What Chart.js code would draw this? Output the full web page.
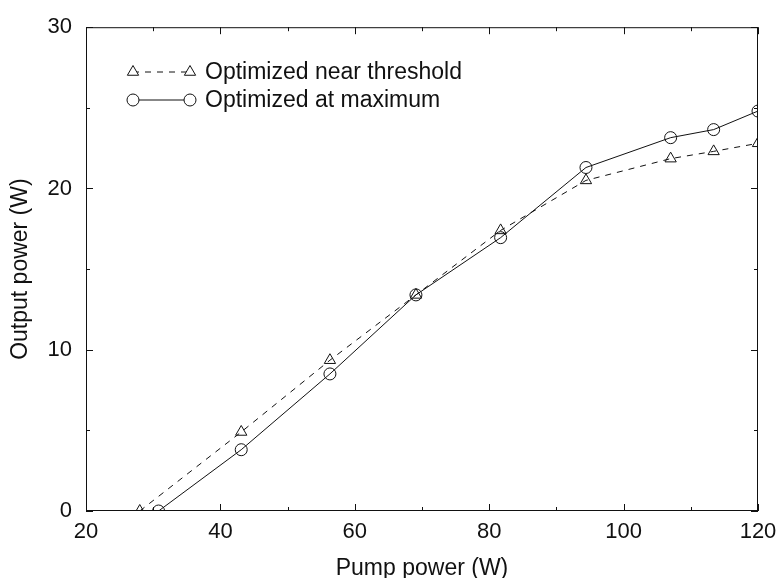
<!DOCTYPE html>
<html>
<head>
<meta charset="utf-8">
<script src="https://cdn.jsdelivr.net/npm/chart.js@4.4.1/dist/chart.umd.min.js"></script>
<style>
  html, body { margin: 0; padding: 0; background: #fff; }
  #wrap { width: 778px; height: 578px; }
</style>
</head>
<body>
<div id="wrap"><canvas id="chart" width="778" height="578"></canvas></div>
<script>
// Datos
const pumpThreshold = [28, 43.1, 56.3, 69.1, 81.7, 94.4, 107, 113.4, 120];
const outThreshold = [0, 4.9, 9.35, 13.4, 17.4, 20.5, 21.85, 22.3, 22.8];
const pumpMaximum = [30.8, 43.1, 56.3, 69.1, 81.7, 94.4, 107, 113.4, 120];
const outMaximum = [0, 3.8, 8.5, 13.4, 16.95, 21.3, 23.15, 23.65, 24.8];
const seriesLabels = ['Optimized near threshold', 'Optimized at maximum'];
const xTicks = [20, 40, 60, 80, 100, 120];
const xMinorTicks = [30, 50, 70, 90, 110];
const yTicks = [0, 10, 20, 30];
const yMinorTicks = [5, 15, 25];

const FONT = "'Liberation Sans', Arial, sans-serif";
const INK = '#111';

function toPoints(xs, ys) {
    return xs.map((x, i) => ({ x: x, y: ys[i] }));
}

// Marco, marcas hacia dentro y leyenda
const framePlugin = {
    id: 'frame',
    afterDraw(chart) {
        const ctx = chart.ctx;
        const a = chart.chartArea;
        const xs = chart.scales.x;
        const ys = chart.scales.y;
        ctx.save();
        ctx.strokeStyle = INK;
        ctx.lineWidth = 1;
        ctx.setLineDash([]);
        ctx.strokeRect(a.left + 0.5, a.top + 0.5, a.right - a.left - 1, a.bottom - a.top - 1);

        ctx.beginPath();
        const xTick = (v, len) => {
            const px = Math.round(xs.getPixelForValue(v)) + 0.5;
            ctx.moveTo(px, a.bottom); ctx.lineTo(px, a.bottom - len);
            ctx.moveTo(px, a.top); ctx.lineTo(px, a.top + len);
        };
        const yTick = (v, len) => {
            const py = Math.round(ys.getPixelForValue(v)) + 0.5;
            ctx.moveTo(a.left, py); ctx.lineTo(a.left + len, py);
            ctx.moveTo(a.right, py); ctx.lineTo(a.right - len, py);
        };
        xTicks.forEach(v => xTick(v, 7));
        xMinorTicks.forEach(v => xTick(v, 4));
        yTicks.forEach(v => yTick(v, 7));
        yMinorTicks.forEach(v => yTick(v, 4));
        ctx.stroke();

        // Leyenda
        const rows = [72, 100];
        chart.data.datasets.forEach((ds, i) => {
            const y = rows[i];
            const x0 = 133, x1 = 190;
            ctx.beginPath();
            ctx.setLineDash(ds.borderDash || []);
            ctx.strokeStyle = ds.borderColor;
            ctx.lineWidth = ds.borderWidth;
            ctx.moveTo(x0, y); ctx.lineTo(x1, y);
            ctx.stroke();
            ctx.setLineDash([]);
            ctx.fillStyle = '#fff';
            [x0, x1].forEach(px => {
                Chart.helpers.drawPoint(ctx, {
                    pointStyle: ds.pointStyle,
                    radius: ds.pointRadius,
                    borderWidth: 1,
                    rotation: 0
                }, px, y);
            });
            ctx.fillStyle = INK;
            ctx.font = '23px ' + FONT;
            ctx.textBaseline = 'middle';
            ctx.textAlign = 'left';
            ctx.fillText(ds.label, 205, y + 1);
        });
        ctx.restore();
    }
};

new Chart(document.getElementById('chart'), {
    type: 'line',
    data: {
        datasets: [
            {
                label: seriesLabels[0],
                data: toPoints(pumpThreshold, outThreshold),
                borderColor: INK,
                borderWidth: 1,
                borderDash: [6, 6],
                pointStyle: 'triangle',
                pointRadius: 6.5,
                pointBorderColor: INK,
                pointBackgroundColor: 'rgba(0,0,0,0)',
                pointBorderWidth: 1,
                tension: 0
            },
            {
                label: seriesLabels[1],
                data: toPoints(pumpMaximum, outMaximum),
                borderColor: INK,
                borderWidth: 1,
                pointStyle: 'circle',
                pointRadius: 6,
                pointBorderColor: INK,
                pointBackgroundColor: 'rgba(0,0,0,0)',
                pointBorderWidth: 1,
                tension: 0
            }
        ]
    },
    options: {
        responsive: false,
        animation: false,
        layout: { padding: { top: 20, right: 20, left: 0, bottom: 0 } },
        plugins: {
            legend: { display: false },
            tooltip: { enabled: false }
        },
        scales: {
            x: {
                type: 'linear',
                min: 20,
                max: 120,
                afterFit: s => { s.height = 67; s.paddingLeft = 0; s.paddingRight = 0; },
                afterBuildTicks: s => { s.ticks = xTicks.map(v => ({ value: v })); },
                grid: { display: false, drawTicks: false },
                border: { display: false },
                ticks: { color: INK, font: { family: FONT, size: 22 }, padding: 8 },
                title: {
                    display: true,
                    text: 'Pump power (W)',
                    color: INK,
                    font: { family: FONT, size: 23 },
                    padding: { top: 6, bottom: -4 }
                }
            },
            y: {
                min: 0,
                max: 30,
                afterFit: s => { s.width = 86; },
                afterBuildTicks: s => { s.ticks = yTicks.map(v => ({ value: v })); },
                grid: { display: false, drawTicks: false },
                border: { display: false },
                ticks: { color: INK, font: { family: FONT, size: 22 }, padding: 14 },
                title: {
                    display: true,
                    text: 'Output power (W)',
                    color: INK,
                    font: { family: FONT, size: 23 },
                    padding: { top: 7, bottom: 0 }
                }
            }
        }
    },
    plugins: [framePlugin]
});
</script>
</body>
</html>
